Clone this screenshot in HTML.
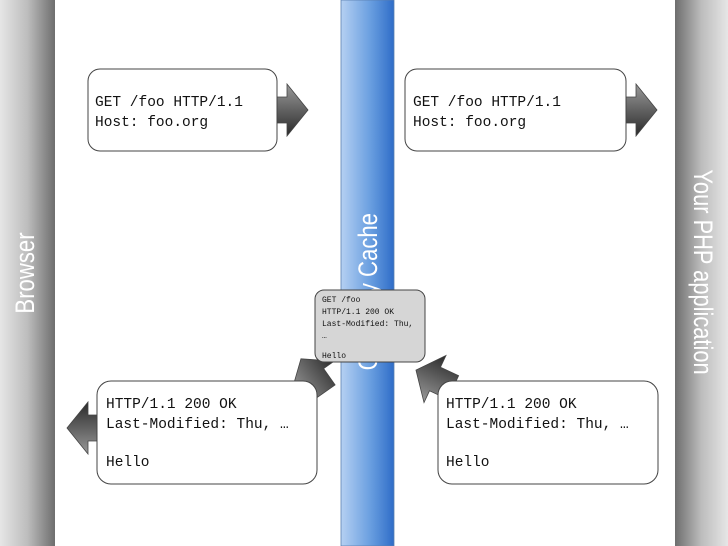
<!DOCTYPE html>
<html><head><meta charset="utf-8"><style>
html,body{margin:0;padding:0;background:#fff}
svg{display:block}
.m{font-family:"Liberation Mono",monospace;font-size:14.5px;fill:#111}
.s{font-family:"Liberation Mono",monospace;font-size:8px;fill:#111}
.lbl{font-family:"Liberation Sans",sans-serif;fill:#fff;font-size:27px}
</style></head><body>
<svg width="728" height="546" viewBox="0 0 728 546" xmlns="http://www.w3.org/2000/svg">
<defs>
<linearGradient id="gl" x1="0" x2="1" y1="0" y2="0"><stop offset="0" stop-color="#e6e6e6"/><stop offset="0.5" stop-color="#bdbdbd"/><stop offset="1" stop-color="#6e6e6e"/></linearGradient>
<linearGradient id="gr" x1="0" x2="1" y1="0" y2="0"><stop offset="0" stop-color="#6e6e6e"/><stop offset="0.5" stop-color="#bdbdbd"/><stop offset="1" stop-color="#e6e6e6"/></linearGradient>
<linearGradient id="gb" x1="0" x2="1" y1="0" y2="0"><stop offset="0" stop-color="#b5d0f2"/><stop offset="0.55" stop-color="#6a9fe0"/><stop offset="1" stop-color="#2f6dc8"/></linearGradient>
<linearGradient id="ga" x1="0" x2="0" y1="0" y2="1"><stop offset="0" stop-color="#999"/><stop offset="1" stop-color="#2a2a2a"/></linearGradient>
<g id="arr"><path d="M-20,-13 L0,-13 L0,-26 L21,0 L0,26 L0,13 L-20,13 Z" fill="url(#ga)" stroke="#444" stroke-width="0.8"/></g>
</defs>
<rect x="0" y="0" width="55" height="546" fill="url(#gl)"/>
<rect x="675" y="0" width="53" height="546" fill="url(#gr)"/>
<rect x="341" y="0" width="53" height="546" fill="url(#gb)" stroke="#5a7fb0" stroke-width="0.8"/>
<g transform="translate(34,273) rotate(-90) scale(0.82,1)"><text class="lbl" x="0" y="0" text-anchor="middle">Browser</text></g>
<g transform="translate(694,272) rotate(90) scale(0.81,1)"><text class="lbl" x="0" y="0" text-anchor="middle">Your PHP application</text></g>
<g transform="translate(377,213) rotate(-90) scale(0.82,1)"><text class="lbl" x="0" y="0" text-anchor="end">Gateway Cache</text></g>

<use href="#arr" transform="translate(287,110)"/>
<use href="#arr" transform="translate(636,110)"/>
<use href="#arr" transform="translate(88,428) rotate(180)"/>
<use href="#arr" transform="translate(313,376) rotate(-125)"/>
<use href="#arr" transform="translate(435,379) rotate(-155)"/>

<rect x="88" y="69" width="189" height="82" rx="12" fill="#fff" stroke="#444" stroke-width="1"/>
<text class="m" x="95" y="106">GET /foo HTTP/1.1</text>
<text class="m" x="95" y="126">Host: foo.org</text>
<rect x="405" y="69" width="221" height="82" rx="12" fill="#fff" stroke="#444" stroke-width="1"/>
<text class="m" x="413" y="106">GET /foo HTTP/1.1</text>
<text class="m" x="413" y="126">Host: foo.org</text>

<rect x="315" y="290" width="110" height="72" rx="9" fill="#d6d6d6" stroke="#444" stroke-width="1"/>
<text class="s" x="322" y="302">GET /foo</text>
<text class="s" x="322" y="314">HTTP/1.1 200 OK</text>
<text class="s" x="322" y="326">Last-Modified: Thu,</text>
<text class="s" x="322" y="338">…</text>
<text class="s" x="322" y="358">Hello</text>

<rect x="97" y="381" width="220" height="103" rx="14" fill="#fff" stroke="#444" stroke-width="1"/>
<text class="m" x="106" y="408">HTTP/1.1 200 OK</text>
<text class="m" x="106" y="428">Last-Modified: Thu, …</text>
<text class="m" x="106" y="466">Hello</text>
<rect x="438" y="381" width="220" height="103" rx="14" fill="#fff" stroke="#444" stroke-width="1"/>
<text class="m" x="446" y="408">HTTP/1.1 200 OK</text>
<text class="m" x="446" y="428">Last-Modified: Thu, …</text>
<text class="m" x="446" y="466">Hello</text>
</svg>
</body></html>
